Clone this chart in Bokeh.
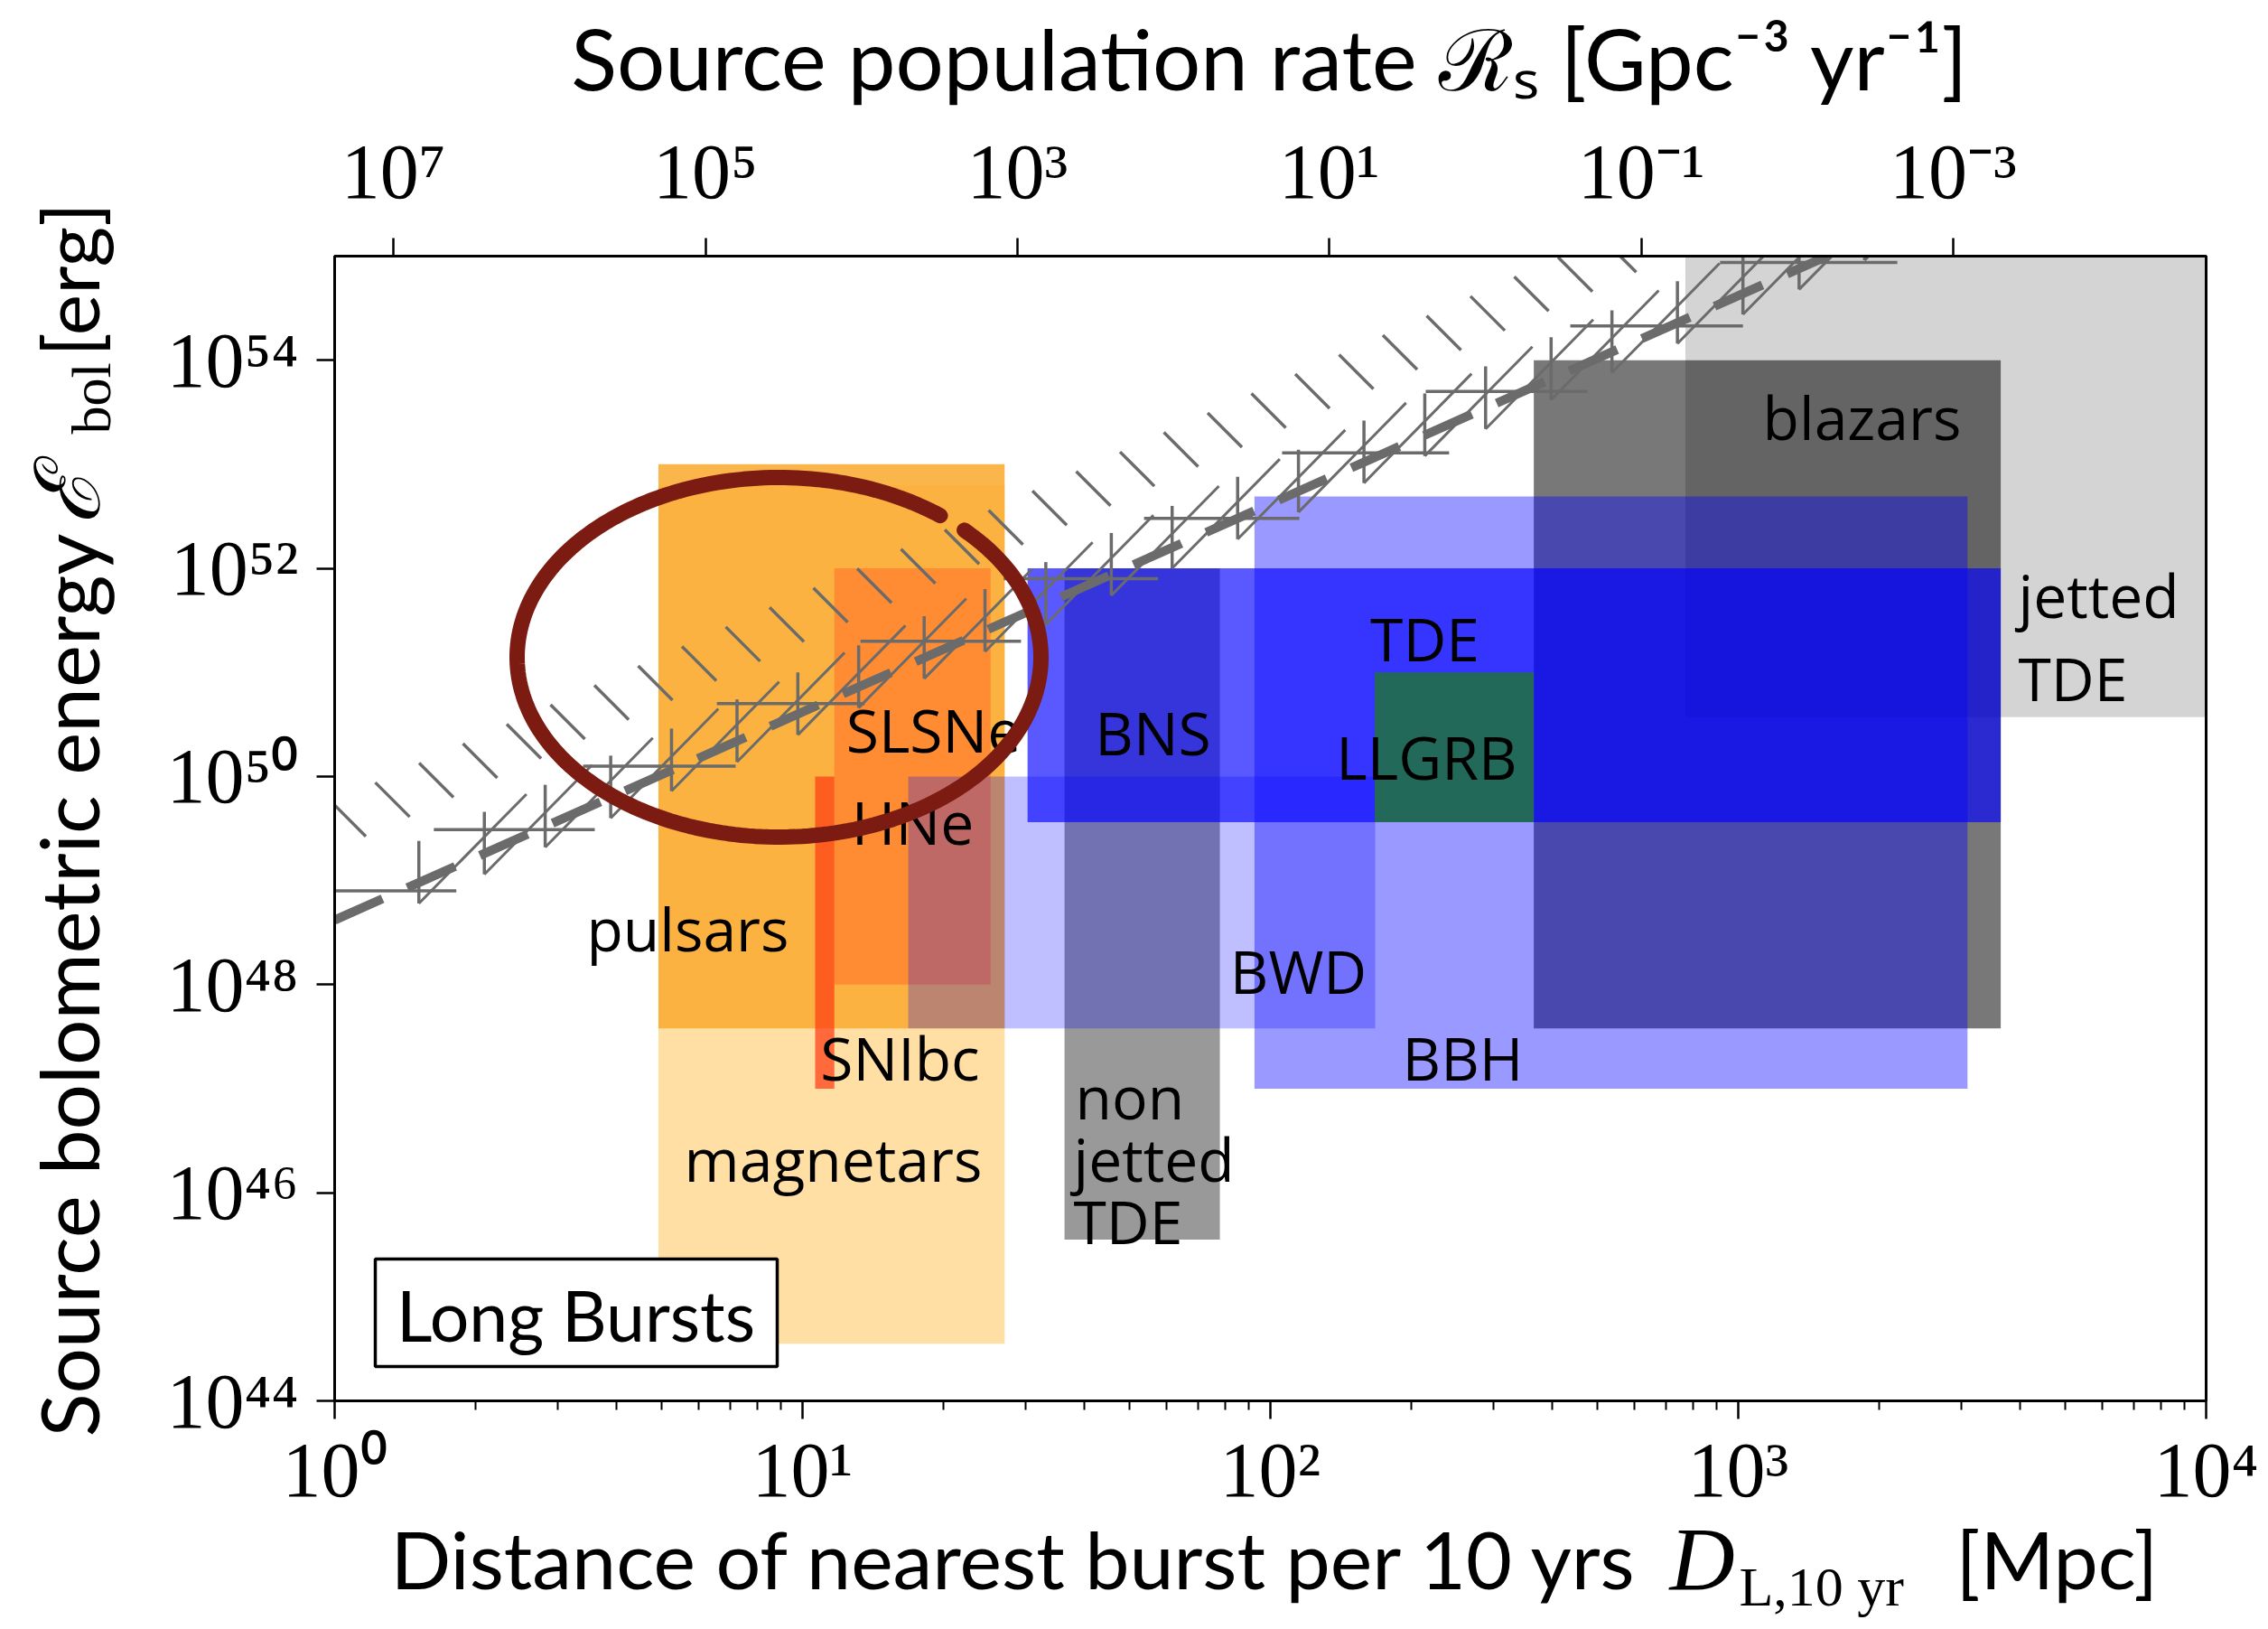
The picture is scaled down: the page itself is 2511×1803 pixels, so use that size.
import numpy as np
from bokeh.plotting import figure
from bokeh.models import (Range1d, LogAxis, LogScale, FixedTicker,
                          CustomJSTickFormatter, ColumnDataSource, Title)
from bokeh.core.properties import value
from bokeh.embed import file_html
from bokeh.resources import INLINE

# ---------------------------------------------------------------------------
# Source classes: distance of the nearest burst per 10 yr [Mpc] and
# bolometric energy [erg], both as log10 bounds.
box_names = ["jetted TDE", "blazars", "non jetted TDE", "magnetars", "pulsars",
             "SLSNe", "SNIbc", "BBH", "BWD", "BNS / TDE", "LLGRB"]
box_logd_min = [2.887, 2.563, 1.560, 0.692, 0.692, 1.068, 1.027, 1.966, 1.226, 1.481, 2.223]
box_logd_max = [4.000, 3.561, 1.892, 1.432, 1.432, 1.402, 1.068, 3.490, 2.224, 3.561, 2.563]
box_loge_min = [50.57, 47.58, 45.55, 44.55, 47.58, 48.00, 47.00, 47.00, 47.58, 49.56, 49.56]
box_loge_max = [55.00, 54.00, 52.00, 52.80, 53.00, 52.00, 50.00, 52.69, 50.00, 52.00, 51.00]

# Detection thresholds (log10 D, log10 E)
dashed_logd = [0.0, 3.19]
dashed_loge = [48.62, 55.0]
hatch_logd = [0.0, 2.74]
hatch_loge = [49.53, 55.0]

# Binned sensitivity: horizontal bars (log10 D range, log10 E level)
bar_level = [48.90, 49.49, 50.10, 50.70, 51.30, 51.90, 52.48, 53.11, 53.70, 54.33, 54.94]
bar_left = [-0.09, 0.212, 0.531, 0.817, 1.124, 1.430, 1.730, 2.025, 2.332, 2.641, 2.961]
bar_right = [0.260, 0.556, 0.857, 1.133, 1.467, 1.760, 2.062, 2.382, 2.678, 3.010, 3.340]

# Sensitivity points (log10 D, log10 E) with their error extents
cross_logd = [0.18, 0.32, 0.45, 0.59, 0.72, 0.86, 0.99, 1.12, 1.26, 1.39, 1.52, 1.66,
              1.79, 1.93, 2.06, 2.20, 2.33, 2.46, 2.60, 2.73, 2.87, 3.01, 3.13, 3.27]
cross_loge = [49.08, 49.36, 49.62, 49.90, 50.16, 50.44, 50.70, 50.96, 51.24, 51.50, 51.76, 52.04,
              52.30, 52.58, 52.84, 53.12, 53.38, 53.64, 53.92, 54.18, 54.46, 54.74, 54.98, 55.26]
cross_half = 0.30
# rising strokes attached to each point: start / end offsets in (log D, log E)
rise_from = (0.0, -0.30)
rise_to = (0.23, 0.75)

# Tick values
y_ticks = [1e44, 1e46, 1e48, 1e50, 1e52, 1e54]
x_ticks = [1e0, 1e1, 1e2, 1e3, 1e4]
rate_ticks = [1e7, 1e5, 1e3, 1e1, 1e-1, 1e-3]

# ---------------------------------------------------------------------------
# Layout (pixels) and styles
W, H = 2511, 1803
FX0, FX1, FY0, FY1 = 370, 2442, 283, 1550
LD0, LD1, LE0, LE1 = 0.0, 4.0, 44.0, 55.0


def d_at(px):
    return 10 ** (LD0 + (px - FX0) / (FX1 - FX0) * (LD1 - LD0))


def e_at(py):
    return 10 ** (LE1 - (py - FY0) / (FY1 - FY0) * (LE1 - LE0))


PX_PER_DEC_X = (FX1 - FX0) / (LD1 - LD0)
PX_PER_DEC_Y = (FY1 - FY0) / (LE1 - LE0)

box_style = {
    "jetted TDE": ("#000000", 0.17),
    "blazars": ("#000000", 0.53),
    "non jetted TDE": ("#000000", 0.40),
    "magnetars": ("#FFA500", 0.36),
    "pulsars": ("#FAAC32", 0.88),
    "SLSNe": ("#FF8C33", 1.0),
    "SNIbc": ("#FF3C14", 0.72),
    "BBH": ("#0000FF", 0.40),
    "BWD": ("#0000FF", 0.25),
    "BNS / TDE": ("#0000FF", 0.65),
    "LLGRB": ("#22695A", 1.0),
}
GRAY = "#6B6B6B"
SANS = "Lato"
SERIF = "Liberation Serif"
BOXFONT = "Open Sans"
TICK_FS = 86

# font ascent / descent (fraction of the em) used to place title pieces
ASC = {SANS: 0.987, SERIF: 0.891, "DejaVu Serif": 0.928}
DESC = {SANS: 0.213, SERIF: 0.216, "DejaVu Serif": 0.236}

R_COEF = 3e9 / (40 * np.pi)  # rate [Gpc^-3 yr^-1] giving one burst per 10 yr inside D [Mpc]

p = figure(width=W, height=H, x_axis_type="log", y_axis_type="log",
           x_range=Range1d(10 ** LD0, 10 ** LD1), y_range=Range1d(10 ** LE0, 10 ** LE1),
           output_backend="svg", toolbar_location=None,
           min_border_left=FX0, min_border_right=W - FX1,
           min_border_top=FY0, min_border_bottom=H - FY1)
p.background_fill_color = "white"
p.border_fill_color = "white"
p.outline_line_color = "black"
p.outline_line_width = 3
p.xgrid.visible = False
p.ygrid.visible = False

sup_code = """
const sup = {"0":"\u2070","1":"\u00b9","2":"\u00b2","3":"\u00b3","4":"\u2074",
             "5":"\u2075","6":"\u2076","7":"\u2077","8":"\u2078","9":"\u2079","-":"\u207b"};
const e = Math.round(Math.log10(tick));
return "10" + String(e).split("").map((c) => sup[c]).join("");
"""

bottom_axis = p.below[0]
left_axis = p.left[0]

p.extra_x_ranges = {"rate": Range1d(start=R_COEF / (10 ** LD0) ** 3, end=R_COEF / (10 ** LD1) ** 3)}
p.extra_x_scales = {"rate": LogScale()}
top_axis = LogAxis(x_range_name="rate")
p.add_layout(top_axis, "above")

minor_x = [m * 10 ** k for k in range(0, 4) for m in range(2, 10)]
bottom_axis.ticker = FixedTicker(ticks=x_ticks, minor_ticks=minor_x)
left_axis.ticker = FixedTicker(ticks=y_ticks, minor_ticks=[])
top_axis.ticker = FixedTicker(ticks=rate_ticks, minor_ticks=[])

for ax in [bottom_axis, left_axis, top_axis]:
    ax.formatter = CustomJSTickFormatter(code=sup_code)
    ax.axis_line_width = 3
    ax.axis_line_color = "black"
    ax.major_tick_line_width = 2.5
    ax.major_tick_line_color = "black"
    ax.minor_tick_line_width = 2
    ax.minor_tick_line_color = "black"
    ax.major_tick_in = 0
    ax.minor_tick_in = 0
    ax.major_tick_out = 20
    ax.minor_tick_out = 10
    ax.major_label_text_font = SERIF
    ax.major_label_text_font_size = f"{TICK_FS}px"
    ax.major_label_text_color = "black"
bottom_axis.major_label_standoff = 8
left_axis.major_label_standoff = 20
top_axis.major_label_standoff = 26

# ---- source boxes
cols = [box_style[n][0] for n in box_names]
alphas = [box_style[n][1] for n in box_names]
box_src = ColumnDataSource(dict(
    name=box_names,
    left=[10 ** v for v in box_logd_min], right=[10 ** v for v in box_logd_max],
    bottom=[10 ** v for v in box_loge_min], top=[10 ** v for v in box_loge_max],
    color=cols, alpha=alphas))
p.quad(left="left", right="right", bottom="bottom", top="top", source=box_src,
       fill_color="color", fill_alpha="alpha", line_color=None)

# ---- detection thresholds
p.segment(x0=[10 ** v for v in bar_left], x1=[10 ** v for v in bar_right],
          y0=[10 ** v for v in bar_level], y1=[10 ** v for v in bar_level],
          line_color=GRAY, line_width=3.5)
p.segment(x0=[10 ** v for v in cross_logd], x1=[10 ** v for v in cross_logd],
          y0=[10 ** (v - cross_half) for v in cross_loge],
          y1=[10 ** (v + cross_half) for v in cross_loge],
          line_color=GRAY, line_width=3.5)
p.segment(x0=[10 ** (d + rise_from[0]) for d in cross_logd],
          y0=[10 ** (e + rise_from[1]) for e in cross_loge],
          x1=[10 ** (d + rise_to[0]) for d in cross_logd],
          y1=[10 ** (e + rise_to[1]) for e in cross_loge],
          line_color=GRAY, line_width=3)
p.line([10 ** v for v in dashed_logd], [10 ** v for v in dashed_loge],
       line_color=GRAY, line_width=10, line_dash="58 30")

# hatched boundary: short strokes along the threshold line
slope = (hatch_loge[1] - hatch_loge[0]) / (hatch_logd[1] - hatch_logd[0])
spacing = 48.5 / PX_PER_DEC_X
hx0, hx1, hy0, hy1 = [], [], [], []
half_x = 19 / PX_PER_DEC_X
half_y = 19 / PX_PER_DEC_Y
t = hatch_logd[0] + 0.03
while t < hatch_logd[1] + 0.2:
    le = hatch_loge[0] + slope * (t - hatch_logd[0])
    hx0.append(10 ** (t - half_x)); hy0.append(10 ** (le + half_y))
    hx1.append(10 ** (t + half_x)); hy1.append(10 ** (le - half_y))
    t += spacing
p.segment(x0=hx0, y0=hy0, x1=hx1, y1=hy1, line_color=GRAY, line_width=3.5)

# ---- class names
BOX_FS = "66px"
name_labels = [
    ("pulsars", 761, 1026, "center"), ("SLSNe", 1033, 806, "center"),
    ("HNe", 1010, 908, "center"), ("SNIbc", 996, 1169, "center"),
    ("magnetars", 922, 1281, "center"), ("non", 1190, 1212, "left"),
    ("jetted", 1188, 1281, "left"), ("TDE", 1188, 1350, "left"),
    ("BNS", 1276, 809, "center"), ("BWD", 1437, 1073, "center"),
    ("TDE", 1577, 705, "center"), ("LLGRB", 1579, 836, "center"),
    ("BBH", 1619, 1169, "center"), ("blazars", 2061, 460, "center"),
    ("jetted", 2234, 657, "left"), ("TDE", 2234, 749, "left"),
]
for txt, px, py, al in name_labels:
    p.text(x=[d_at(px)], y=[e_at(py)], text=[txt], text_align=al, text_baseline="middle",
           text_font=value(BOXFONT), text_font_size=BOX_FS, text_color="black")

# ---- "Long Bursts" tag
p.quad(left=[d_at(415)], right=[d_at(860)], bottom=[e_at(1512)], top=[e_at(1393)],
       fill_color="white", line_color="black", line_width=3.5)
p.text(x=[d_at(637)], y=[e_at(1454)], text=["Long Bursts"], text_align="center",
       text_baseline="middle", text_font=value(SANS), text_font_size="77px", text_color="black")

# ---- hand-drawn highlight around the crossing region
th = np.linspace(np.radians(52), np.radians(52 + 353), 240)
ecx, ecy, erx, ery = 862, 727, 290, 199
p.line(x=[d_at(ecx + erx * np.cos(a)) for a in th], y=[e_at(ecy - ery * np.sin(a)) for a in th],
       line_color="#7B1B12", line_width=17, line_cap="round")

# ---- axis titles, assembled from pieces placed in the side panels.
# Every piece is given a collapsed (zero-size) slot just outside the axis,
# and is then pushed to its baseline through its standoff.
AX_TOP = 145      # space used by the top axis
AX_BOTTOM = 126   # space used by the bottom axis
AX_LEFT = 183     # space used by the left axis
T_TOP = FY0 - AX_TOP
T_BOTTOM = FY1 + AX_BOTTOM
T_LEFT = FX0 - AX_LEFT


def piece(side, text, size, baseline, start=0.0, font=SANS, style="normal", align="left"):
    asc, desc = ASC[font] * size, DESC[font] * size
    if side == "above":      # top of text box placed at baseline - ascent
        va, standoff = "top", 2 * ((baseline - asc) - T_TOP)
    elif side == "below":    # bottom of text box placed at baseline + descent
        va, standoff = "bottom", -2 * ((baseline + desc) - T_BOTTOM)
    else:                    # left: ascender side of the rotated text
        va, standoff = "top", 2 * ((baseline - asc) - T_LEFT)
    offset = start - FX0 if side != "left" else FY1 - start
    p.add_layout(Title(text=text, text_font=font, text_font_size=f"{size}px",
                       text_font_style=style, text_color="black", align=align,
                       vertical_align=va, offset=offset, standoff=standoff), side)


# top: single line, centred over the frame
piece("above", "Source population rate \u211b\u209b [Gpc\u207b\u00b3 yr\u207b\u00b9]", 94, 99,
      align="center")

# bottom
piece("below", "Distance of nearest burst per 10 yrs", 88, 1758, start=432)
piece("below", "D", 100, 1758, start=1848, font=SERIF, style="italic")
piece("below", "[Mpc]", 88, 1758, start=2165)
piece("below", "L,10 yr", 62, 1775, start=1925, font=SERIF)

# left (reads upwards)
piece("left", "Source bolometric energy", 89, 115, start=1590)
piece("left", "\u2130", 100, 115, start=580, font="DejaVu Serif", style="italic")
piece("left", "bol", 62, 128, start=480, font=SERIF)
piece("left", "[erg]", 86, 115, start=394)

open("out.html", "w").write(file_html(p, INLINE))
